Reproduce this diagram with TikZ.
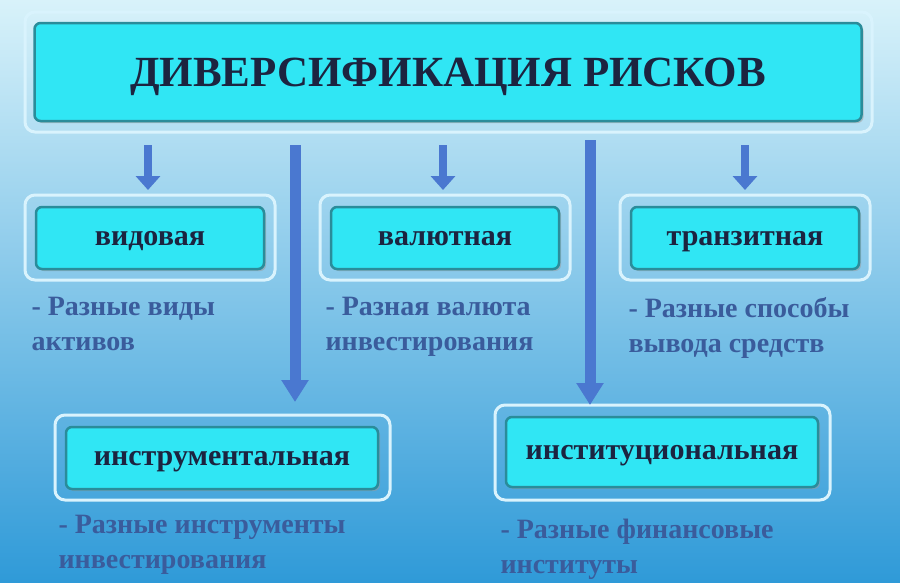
\documentclass[tikz,border=0pt]{standalone}
\usepackage{fontspec}
\setmainfont{Liberation Serif}
\usetikzlibrary{arrows.meta,shadows}
\definecolor{bgtop}{HTML}{D8F2FA}
\definecolor{bgbot}{HTML}{2F9AD8}
\definecolor{boxfill}{HTML}{30E6F4}
\definecolor{boxedge}{HTML}{2A8C9A}
\definecolor{navy}{HTML}{1C2440}
\definecolor{txtblue}{HTML}{3A5C9C}
\definecolor{arr}{HTML}{4A78D0}
\begin{document}
\begin{tikzpicture}[x=1pt,y=-1pt,
  box/.style={draw=boxedge,line width=2.5pt,fill=boxfill,rounded corners=6pt,
     font=\bfseries\fontsize{30}{30}\selectfont, text=navy, text height=14pt, text depth=0pt,
     drop shadow={shadow xshift=2pt,shadow yshift=-2pt,fill=black!40,opacity=.5}},
  glow/.style={draw=white!85!cyan,line width=3pt,rounded corners=10pt},
  desc/.style={anchor=north west,align=left,text=txtblue,font=\bfseries\fontsize{28}{35}\selectfont},
  bigarrow/.style={draw=arr,line width=11pt,-{Triangle[width=26pt,length=22pt]}},
  smallarrow/.style={draw=arr,line width=8pt,-{Triangle[width=24pt,length=14pt]}}]
\shade[top color=bgtop,bottom color=bgbot] (0,0) rectangle (900,582);
\useasboundingbox (0,0) rectangle (900,582);
% glows
\draw[glow] (25,12) rectangle (872,132);
\draw[glow] (25,195) rectangle (275,280);
\draw[glow] (320,195) rectangle (570,280);
\draw[glow] (620,195) rectangle (870,280);
\draw[glow] (55,415) rectangle (390,500);
\draw[glow] (495,405) rectangle (830,500);
% boxes
\node[box,minimum width=827pt,minimum height=98pt,text height=29pt,font=\bfseries\fontsize{43}{43}\selectfont] (title) at (448,72) {ДИВЕРСИФИКАЦИЯ РИСКОВ};
\node[box,minimum width=228pt,minimum height=62pt] (vid) at (150,238) {видовая};
\node[box,minimum width=228pt,minimum height=62pt] (val) at (445,238) {валютная};
\node[box,minimum width=228pt,minimum height=62pt] (tra) at (745,238) {транзитная};
\node[box,minimum width=312pt,minimum height=62pt] (ins) at (222,458) {инструментальная};
\node[box,minimum width=312pt,minimum height=70pt] (inst) at (662,452) {институциональная};
% arrows
\coordinate (a1s) at (148,145); \coordinate (a1e) at (148,190);
\coordinate (a2s) at (443,145); \coordinate (a2e) at (443,190);
\coordinate (a3s) at (745,145); \coordinate (a3e) at (745,190);
\coordinate (b1s) at (295,145); \coordinate (b1e) at (295,402);
\coordinate (b2s) at (590,140); \coordinate (b2e) at (590,405);
\draw[smallarrow] (a1s) -- (a1e);
\draw[smallarrow] (a2s) -- (a2e);
\draw[smallarrow] (a3s) -- (a3e);
\draw[bigarrow] (b1s) -- (b1e);
\draw[bigarrow] (b2s) -- (b2e);
% descriptions
\node[desc] (d1) at (28,294) {- Разные виды\\активов};
\node[desc] (d2) at (322,294) {- Разная валюта\\инвестирования};
\node[desc] (d3) at (625,294) {- Разные способы\\вывода средств};
\node[desc] (d4) at (55,512) {- Разные инструменты\\инвестирования};
\node[desc] (d5) at (497,516) {- Разные финансовые\\институты};
\end{tikzpicture}
\end{document}
